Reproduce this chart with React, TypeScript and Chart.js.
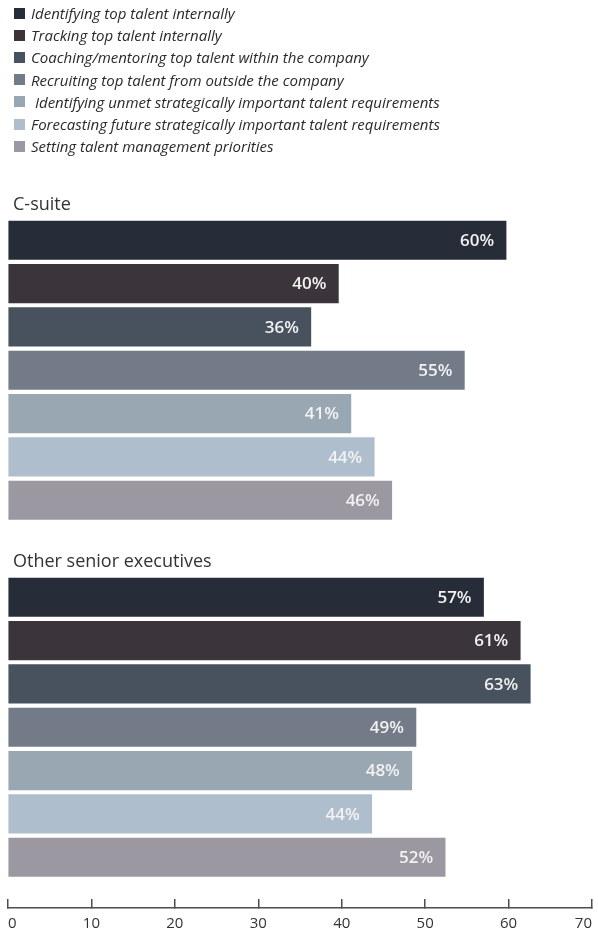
import React, { useEffect, useRef } from "react";
import { Chart, registerables } from "chart.js";

Chart.register(...registerables);

const measures = [
  "Identifying top talent internally",
  "Tracking top talent internally",
  "Coaching/mentoring top talent within the company",
  "Recruiting top talent from outside the company",
  " Identifying unmet strategically important talent requirements",
  "Forecasting future strategically important talent requirements",
  "Setting talent management priorities",
];

const groups = ["C-suite", "Other senior executives"];

const cSuite = [59.7, 39.6, 36.3, 54.7, 41.1, 43.9, 46.0];
const otherExecs = [57.0, 61.4, 62.6, 48.9, 48.4, 43.6, 52.4];

const xTicks = [0, 10, 20, 30, 40, 50, 60, 70];

const colors = ["#262c38", "#3b343a", "#48525e", "#727b87", "#99a7b3", "#afbecc", "#9b98a2"];

// layout (not data)
const GROUP_OFFSET = 8.24;
const Y_MIN = -1.3905;
const Y_MAX = 15.411;
const FONT = '"Open Sans", "DejaVu Sans", sans-serif';

const groupValues = [cSuite, otherExecs];

const overlayPlugin = {
  id: "overlay",
  afterDatasetsDraw(chart: any) {
    const ctx = chart.ctx;
    const yScale = chart.scales.y;
    ctx.save();
    // value labels
    ctx.font = `600 17px ${FONT}`;
    ctx.fillStyle = "#f2f2f2";
    ctx.textAlign = "right";
    ctx.textBaseline = "middle";
    chart.data.datasets.forEach((ds: any, di: number) => {
      const meta = chart.getDatasetMeta(di);
      meta.data.forEach((el: any, i: number) => {
        const v = ds.data[i].x;
        ctx.fillText(`${Math.round(v)}%`, el.x - 12, el.y + 1);
      });
    });
    // group titles
    ctx.font = `18px ${FONT}`;
    ctx.fillStyle = "#333333";
    ctx.textAlign = "left";
    groups.forEach((g, gi) => {
      const y = yScale.getPixelForValue(gi * GROUP_OFFSET) - 35;
      ctx.fillText(g, chart.chartArea.left + 5, y);
    });
    ctx.restore();
  },
};

export default function App() {
  const canvasRef = useRef<HTMLCanvasElement | null>(null);

  useEffect(() => {
    if (!canvasRef.current) return;
    const datasets = measures.map((m, i) => ({
      label: m.trim(),
      data: groupValues.map((vals, gi) => ({ x: vals[i], y: gi * GROUP_OFFSET + i })),
      backgroundColor: colors[i],
      borderWidth: 0,
      barThickness: 38.5,
      maxBarThickness: 38.5,
      grouped: false,
    }));
    const chart = new Chart(canvasRef.current, {
      type: "bar",
      data: { datasets },
      options: {
        animation: false,
        responsive: true,
        maintainAspectRatio: false,
        indexAxis: "y",
        layout: { padding: { top: 180, left: 8, right: 6, bottom: 1 }, autoPadding: false },
        plugins: { legend: { display: false }, tooltip: { enabled: false } },
        scales: {
          y: { type: "linear", reverse: true, min: Y_MIN, max: Y_MAX, offset: false, display: false },
          x: {
            type: "linear",
            min: 0,
            max: 70,
            afterBuildTicks: (scale: any) => {
              scale.ticks = xTicks.map((v) => ({ value: v }));
            },
            afterFit: (scale: any) => {
              scale.paddingLeft = 0;
              scale.paddingRight = 0;
              scale.height = 25;
            },
            border: { display: true, color: "#4d4d4d", width: 1.5 },
            grid: { drawOnChartArea: false, drawTicks: true, tickLength: -9, color: "#4d4d4d", lineWidth: 1.5 },
            ticks: { color: "#333333", font: { family: FONT, size: 15 }, padding: 16, maxRotation: 0, align: "inner" },
          },
        },
      } as any,
      plugins: [overlayPlugin],
    });
    return () => chart.destroy();
  }, []);

  return (
    <div style={{ position: "absolute", left: 0, top: 0, width: 598, height: 934 }}>
      <canvas ref={canvasRef} />
      <div style={{ position: "absolute", left: 14, top: 2, fontFamily: FONT }}>
        {measures.map((m, i) => (
          <div key={i} style={{ display: "flex", alignItems: "center", height: 22.2 }}>
            <span style={{ width: 11, height: 11, background: colors[i], marginRight: 6, flex: "none" }} />
            <span style={{ fontStyle: "italic", fontSize: 15, color: "#2a2a2a", whiteSpace: "pre" }}>{m}</span>
          </div>
        ))}
      </div>
    </div>
  );
}
